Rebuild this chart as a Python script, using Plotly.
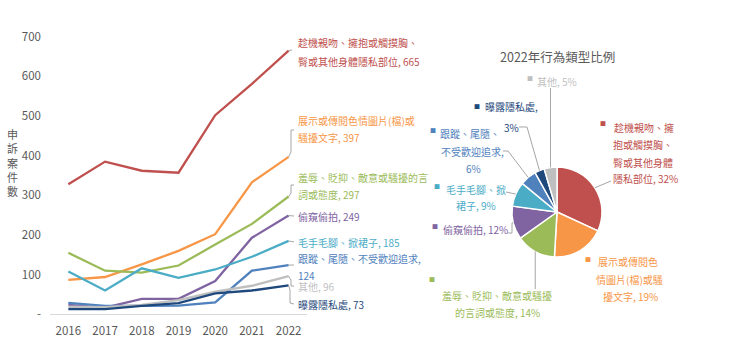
import math
import plotly.graph_objects as go

W, H = 740, 351

years = ["2016", "2017", "2018", "2019", "2020", "2021", "2022"]
series_names = ["趁機親吻、擁抱或觸摸胸、臀或其他身體隱私部位", "展示或傳閱色情圖片(檔)或騷擾文字",
                "羞辱、貶抑、敵意或騷擾的言詞或態度", "偷窺偷拍", "毛手毛腳、掀裙子",
                "跟蹤、尾隨、不受歡迎追求", "其他", "曝露隱私處"]
red = [328, 385, 362, 357, 502, 581, 665]
orange = [87, 94, 126, 160, 202, 333, 397]
green = [155, 110, 105, 123, 176, 228, 297]
purple = [24, 17, 39, 39, 84, 193, 249]
cyan = [108, 60, 116, 92, 113, 145, 185]
blue = [29, 21, 21, 22, 30, 110, 124]
gray = [19, 18, 24, 36, 57, 72, 96]
navy = [13, 13, 21, 28, 53, 60, 73]
series = [red, orange, green, purple, cyan, blue, gray, navy]
colors = ["#C0504D", "#F79646", "#9BBB59", "#8064A2", "#4BACC6", "#4F81BD", "#BFBFBF", "#1F497D"]

y_tickvals = [0, 100, 200, 300, 400, 500, 600, 700]
y_ticktext = ["-", "100", "200", "300", "400", "500", "600", "700"]

line_label_lines = [
    ["趁機親吻、擁抱或觸摸胸、", "臀或其他身體隱私部位, 665"],
    ["展示或傳閱色情圖片(檔)或", "騷擾文字, 397"],
    ["羞辱、貶抑、敵意或騷擾的言", "詞或態度, 297"],
    ["偷窺偷拍, 249"],
    ["毛手毛腳、掀裙子, 185"],
    ["跟蹤、尾隨、不受歡迎追求,", "124"],
    ["其他, 96"],
    ["曝露隱私處, 73"],
]

pie_title = "2022年行為類型比例"
pie_label_lines = [
    ["趁機親吻、擁", "抱或觸摸胸、", "臀或其他身體", "隱私部位, 32%"],
    ["展示或傳閱色", "情圖片(檔)或騷", "擾文字, 19%"],
    ["羞辱、貶抑、敵意或騷擾", "的言詞或態度, 14%"],
    ["偷窺偷拍, 12%"],
    ["毛手毛腳、掀", "裙子, 9%"],
    ["跟蹤、尾隨、", "不受歡迎追求,", "6%"],
    ["曝露隱私處,", "3%"],
    ["其他, 5%"],
]
pie_order = [0, 1, 2, 3, 4, 5, 7, 6]  # slice order clockwise from top

FONT = "Noto Sans CJK TC, Noto Sans, sans-serif"
TXT = "#595959"

# layout geometry (pixels)
AX_L, AX_R = 50, 307
Y0PX, Y700PX = 314.3, 36.7
PIE_CX, PIE_CY, PIE_R = 557, 212, 45


def px(x):
    return x / W


def py(y):
    return 1 - y / H


def val_from_py(y):
    return (Y0PX - y) / (Y0PX - Y700PX) * 700


def cat_from_px(x):
    return (x - AX_L) / ((AX_R - AX_L) / 7) - 0.5


fig = go.Figure()
for name, vals, col in zip(series_names, series, colors):
    fig.add_trace(go.Scatter(x=years, y=vals, mode="lines", name=name,
                             line=dict(color=col, width=2.3), showlegend=False,
                             xaxis="x", yaxis="y"))

pie_vals = [series[i][-1] for i in pie_order]
pie_cols = [colors[i] for i in pie_order]
fig.add_trace(go.Pie(values=pie_vals, labels=[series_names[i] for i in pie_order],
                     marker=dict(colors=pie_cols, line=dict(color="white", width=1.5)),
                     sort=False, direction="clockwise", rotation=0,
                     textinfo="none", hoverinfo="label+percent", showlegend=False,
                     domain=dict(x=[px(PIE_CX - PIE_R), px(PIE_CX + PIE_R)],
                                 y=[py(PIE_CY + PIE_R), py(PIE_CY - PIE_R)])))

annotations = []
shapes = []

# y axis title (stacked)
annotations.append(dict(text="申<br>訴<br>案<br>件<br>數", x=px(12), y=py(162), xref="paper", yref="paper",
                        showarrow=False, font=dict(size=11, color=TXT, family=FONT), xanchor="center",
                        yanchor="middle"))

# line labels
line_label_y = [[43, 61], [120, 138], [177, 194], [216], [242], [258, 275], [286], [304]]
for lines, ys, col in zip(line_label_lines, line_label_y, colors):
    for t, yy in zip(lines, ys):
        annotations.append(dict(text=t, x=px(296), y=py(yy), xref="paper", yref="paper", showarrow=False,
                                xanchor="left", yanchor="middle", font=dict(size=10, color=col, family=FONT)))

# connectors for line labels (pixel waypoints after the 2022 point)
conn = [
    [(292, 50)],
    [(291, 152), (291, 130), (294, 130)],
    [(291, 193), (291, 185), (294, 185)],
    [(294, 216)],
    [(294, 242)],
    [(294, 265)],
    [(291, 280), (291, 286), (294, 286)],
    [(290, 290), (290, 303), (294, 304)],
]
for vals, pts in zip(series, conn):
    path = "M 6 %f" % vals[-1]
    for (xx, yy) in pts:
        path += " L %f %f" % (cat_from_px(xx), val_from_py(yy))
    shapes.append(dict(type="path", path=path, xref="x", yref="y",
                       line=dict(color="#A6A6A6", width=1)))

# pie title
annotations.append(dict(text=pie_title, x=px(557), y=py(57), xref="paper", yref="paper", showarrow=False,
                        xanchor="center", yanchor="middle", font=dict(size=12.5, color=TXT, family=FONT)))

# pie labels (positions by series index)
pie_label_pos = [
    [(643.5, 127), (643, 145), (643, 162), (645, 178)],
    [(628, 261), (629.5, 279), (630, 296)],
    [(497.5, 295), (497.5, 312)],
    [(475.5, 229)],
    [(476, 189), (475.5, 206)],
    [(470, 133), (472, 151), (473, 168)],
    [(557, 81)],
    [(511.5, 107), (511.5, 127)],
]
square_pos = [(603, 124), (588, 259), (432, 279), (435, 226), (437, 186), (433, 131), (530, 78), (477, 107)]
for k, sidx in enumerate(pie_order):
    lines = pie_label_lines[k]
    for t, (xx, yy) in zip(lines, pie_label_pos[sidx]):
        annotations.append(dict(text=t, x=px(xx), y=py(yy), xref="paper", yref="paper", showarrow=False,
                                xanchor="center", yanchor="middle",
                                font=dict(size=10, color=colors[sidx], family=FONT)))
    sx, sy = square_pos[sidx]
    annotations.append(dict(text="■", x=px(sx), y=py(sy), xref="paper", yref="paper", showarrow=False,
                            xanchor="center", yanchor="middle", font=dict(size=6, color=colors[sidx], family=FONT)))

# pie leader lines: start at slice mid-angle on rim
total = sum(pie_vals)
mids = {}
cum = 0
for k, sidx in enumerate(pie_order):
    frac = pie_vals[k] / total
    mids[sidx] = (cum + frac / 2) * 2 * math.pi
    cum += frac

leader_pts = {
    6: [(550.7, 88)],
    7: [(527, 127), (519, 127)],
    5: [(508, 151), (503, 151)],
    4: [(506, 192)],
    3: [(512, 223), (512, 233), (508, 233)],
    2: [(535.2, 289)],
    0: [(611, 181)],
}
for sidx, pts in leader_pts.items():
    a = mids[sidx]
    x0 = PIE_CX + PIE_R * math.sin(a)
    y0 = PIE_CY - PIE_R * math.cos(a)
    if sidx in (6, 2):
        pts = [(x0, pts[0][1])]
    path = "M %f %f" % (px(x0), py(y0))
    for xx, yy in pts:
        path += " L %f %f" % (px(xx), py(yy))
    shapes.append(dict(type="path", path=path, xref="paper", yref="paper",
                       line=dict(color="#A6A6A6", width=1)))

fig.update_layout(
    width=W, height=H, margin=dict(l=0, r=0, t=0, b=0),
    paper_bgcolor="white", plot_bgcolor="white",
    font=dict(family=FONT, color=TXT),
    xaxis=dict(domain=[px(AX_L), px(AX_R)], type="category", range=[-0.5, 6.5], showgrid=False,
               zeroline=False, automargin=False,
               showline=True, linecolor="#D9D9D9", linewidth=1, ticks="",
               tickfont=dict(size=11.5, color=TXT, family=FONT), ticklabelstandoff=6),
    yaxis=dict(domain=[py(Y0PX), py(Y700PX)], range=[0, 700], showgrid=False, zeroline=False,
               automargin=False,
               showline=False, tickvals=y_tickvals, ticktext=y_ticktext, ticks="",
               tickfont=dict(size=11.5, color=TXT, family=FONT), ticklabelstandoff=8),
    annotations=annotations, shapes=shapes,
)

fig.write_html("out.html")
